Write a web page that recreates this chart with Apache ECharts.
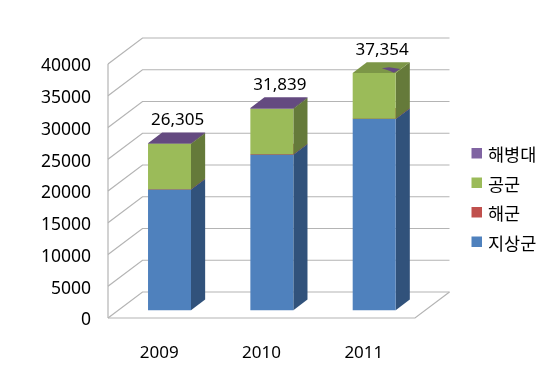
<!DOCTYPE html>
<html>
<head>
<meta charset="utf-8">
<style>html,body{margin:0;padding:0;background:#fff}#c{width:550px;height:368px}</style>
<script src="https://cdn.jsdelivr.net/npm/echarts@6/dist/echarts.min.js"></script>
</head>
<body>
<div id="c"></div>
<script>
const categories = ['2009', '2010', '2011'];
const ground = [19000, 24500, 30100];
const navy = [50, 50, 50];
const airForce = [7155, 7189, 7204];
const marines = [100, 100, 0];
const totals = [26305, 31839, 37354];
const yTicks = [0, 5000, 10000, 15000, 20000, 25000, 30000, 35000, 40000];
const legendOrder = ['해병대', '공군', '해군', '지상군'];

const FONT = '"Noto Sans","Noto Sans CJK KR",sans-serif';
const WALL_DX = 34.5, WALL_DY = -26, BAR_NEAR = 0.3, BAR_FAR = 0.71, BAR_W = 0.42;
const GRID_COLOR = '#b4b4b4';

const layers = [
  { name: '지상군', values: ground, front: '#4f81bd', side: '#31527b', top: '#3f6796' },
  { name: '해군', values: navy, front: '#c0504d', side: '#7d3432', top: '#9a403e' },
  { name: '공군', values: airForce, front: '#9bbb59', side: '#657a3a', top: '#7c9647' },
  { name: '해병대', values: marines, front: '#8064a2', side: '#534169', top: '#644a80' }
];

function poly(points, color) {
  return { type: 'polygon', shape: { points: points }, style: { fill: color } };
}

function barSeries(layer, idx) {
  const data = layer.values.map(function (v, i) {
    let base = 0;
    for (let k = 0; k < idx; k++) base += layers[k].values[i];
    return [i, v, base];
  });
  return {
    name: layer.name, type: 'custom', coordinateSystem: 'cartesian2d', silent: true,
    itemStyle: { color: layer.front }, z: 3 + idx, data: data, encode: { x: 0, y: 1 },
    renderItem: function (params, api) {
      const cat = api.value(0), val = api.value(1), base = api.value(2);
      if (!val) return null;
      const b = api.coord([cat, base]), t = api.coord([cat, base + val]);
      const w = api.size([1, 0])[0] * BAR_W;
      const x0 = b[0] + WALL_DX * BAR_NEAR - w / 2, x1 = x0 + w;
      const yb = b[1] + WALL_DY * BAR_NEAR, yt = t[1] + WALL_DY * BAR_NEAR;
      const ddx = WALL_DX * (BAR_FAR - BAR_NEAR), ddy = WALL_DY * (BAR_FAR - BAR_NEAR);
      const kids = [
        poly([[x1, yb], [x1 + ddx, yb + ddy], [x1 + ddx, yt + ddy], [x1, yt]], layer.side),
        poly([[x0, yb], [x1, yb], [x1, yt], [x0, yt]], layer.front),
        poly([[x0, yt], [x1, yt], [x1 + ddx, yt + ddy], [x0 + ddx, yt + ddy]], layer.top)
      ];
      // thin sliver of the purple top that shows through on the bar with no marine height
      if (layer.name === '공군' && marines[cat] === 0) {
        const uv = [[0.53, 0.45], [0.67, 0.54], [0.98, 0.38], [0.95, 0.03], [0.78, 0.22]];
        kids.push(poly(uv.map(function (p) {
          return [x0 + w * p[0] + ddx * p[1], yt + ddy * p[1]];
        }), '#644a80'));
      }
      return { type: 'group', children: kids };
    }
  };
}

const wallSeries = {
  type: 'custom', coordinateSystem: 'cartesian2d', silent: true, z: 1,
  data: yTicks.map(function (t) { return [0, t]; }), encode: { y: 1 },
  legendHoverLink: false,
  renderItem: function (params, api) {
    const v = api.value(1);
    const p = api.coord([0, v]);
    const cs = params.coordSys;
    const xL = cs.x, xR = cs.x + cs.width;
    const line = { stroke: GRID_COLOR, lineWidth: 1.2, fill: null };
    const kids = [{
      type: 'polyline', style: line,
      shape: { points: [[xL, p[1]], [xL + WALL_DX, p[1] + WALL_DY], [xR + WALL_DX, p[1] + WALL_DY]] }
    }];
    if (v === 0) {
      kids.push({ type: 'polyline', style: line,
        shape: { points: [[xL, p[1]], [xR, p[1]], [xR + WALL_DX, p[1] + WALL_DY]] } });
      kids.push({ type: 'line', style: line,
        shape: { x1: xL, y1: p[1], x2: xL, y2: cs.y } });
    }
    return { type: 'group', children: kids };
  }
};

const labelSeries = {
  type: 'custom', coordinateSystem: 'cartesian2d', silent: true, z: 2,
  data: totals.map(function (t, i) { return [i, t]; }), encode: { x: 0, y: 1 },
  renderItem: function (params, api) {
    const p = api.coord([api.value(0), api.value(1)]);
    return {
      type: 'text', z2: 1,
      style: {
        text: api.value(1).toLocaleString('en-US'),
        x: p[0] + WALL_DX * BAR_NEAR + 13.5, y: p[1] + WALL_DY * BAR_NEAR - 23,
        align: 'center', verticalAlign: 'middle',
        font: '17px ' + FONT, fill: '#000',
        backgroundColor: '#fff', padding: [3, 18, 0, 7]
      }
    };
  }
};

const chart = echarts.init(document.getElementById('c'), null, { renderer: 'canvas' });
chart.setOption({
  animation: false,
  backgroundColor: '#fff',
  grid: { left: 108, top: 64, width: 307, height: 254, containLabel: false },
  xAxis: {
    type: 'category', data: categories,
    axisLine: { show: false }, axisTick: { show: false }, splitLine: { show: false },
    axisLabel: { color: '#000', fontSize: 17, fontFamily: FONT, margin: 27 }
  },
  yAxis: {
    type: 'value', min: 0, max: 40000, interval: 5000,
    axisLine: { show: false }, axisTick: { show: false }, splitLine: { show: false },
    axisLabel: {
      margin: 17,
      formatter: function (v) { return '{n|' + v + '}'; },
      rich: { n: { color: '#000', fontSize: 17.5, fontFamily: FONT, padding: [5, 0, 0, 0] } }
    }
  },
  legend: {
    data: legendOrder, orient: 'vertical', left: 471.5, top: 141.5, padding: 0,
    icon: 'rect', itemWidth: 10.5, itemHeight: 10.5, itemGap: 6, itemStyle: { borderWidth: 0 },
    selectedMode: false,
    formatter: '{t|{name}}',
    textStyle: {
      rich: { t: { color: '#000', fontSize: 17.5, lineHeight: 17, fontFamily: FONT, padding: [6, 0, 0, 1] } }
    }
  },
  series: [wallSeries].concat(layers.map(barSeries), [labelSeries])
});
</script>
</body>
</html>
